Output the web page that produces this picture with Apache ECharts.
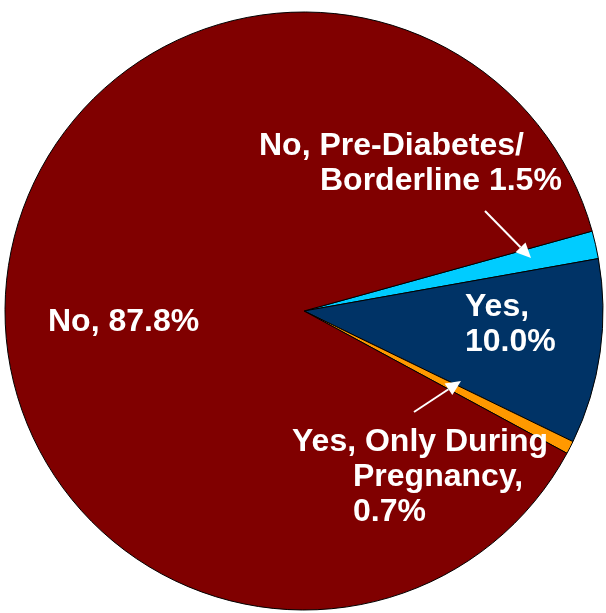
<!DOCTYPE html>
<html>
<head>
<meta charset="utf-8">
<script src="https://cdn.jsdelivr.net/npm/echarts@6/dist/echarts.min.js"></script>
<style>
  html, body { margin: 0; padding: 0; background: #fff; }
  #chart { width: 606px; height: 613px; }
</style>
</head>
<body>
<div id="chart"></div>
<script>
// Daten (Reihenfolge im Uhrzeigersinn ab Startwinkel)
const categories = ['No, Pre-Diabetes/Borderline', 'Yes', 'Yes, Only During Pregnancy', 'No'];
const values = [1.5, 10.0, 0.7, 87.8];
const colors = ['#00CCFF', '#003366', '#FF9900', '#800000'];

// Beschriftungen je Kategorie
const labelTexts = {
    'No, Pre-Diabetes/Borderline': '{a|No, Pre-Diabetes/}\n{b|Borderline 1.5%}',
    'Yes': '{a|Yes,}\n{a|10.0%}',
    'Yes, Only During Pregnancy': '{a|Yes, Only During}\n{c|Pregnancy,}\n{c|0.7%}',
    'No': '{a|No, 87.8%}'
};

// Position der Beschriftungen (Layout)
const labelPos = {
    'No, Pre-Diabetes/Borderline': [259, 129],
    'Yes': [465, 290],
    'Yes, Only During Pregnancy': [292, 425],
    'No': [48, 305]
};

// Pfeile: [von, nach]
const arrows = [
    [[485, 211], [531, 258]],
    [[414, 412], [461, 381]]
];

const myChart = echarts.init(document.getElementById('chart'), null, { renderer: 'canvas' });

function arrowGraphic(from, to) {
    const dx = to[0] - from[0], dy = to[1] - from[1];
    const len = Math.sqrt(dx * dx + dy * dy);
    const ux = dx / len, uy = dy / len;
    const headLen = 15, headW = 7;
    const bx = to[0] - ux * headLen, by = to[1] - uy * headLen;
    return {
        type: 'group',
        z: 100,
        children: [
            {
                type: 'line',
                z: 100,
                shape: { x1: from[0], y1: from[1], x2: bx, y2: by },
                style: { stroke: '#fff', lineWidth: 2 }
            },
            {
                type: 'polygon',
                z: 100,
                shape: {
                    points: [
                        to,
                        [bx - uy * headW, by + ux * headW],
                        [bx + uy * headW, by - ux * headW]
                    ]
                },
                style: { fill: '#fff' }
            }
        ]
    };
}

const richStyle = {
    a: { color: '#fff', fontSize: 32, fontWeight: 'bold', fontFamily: 'Liberation Sans', lineHeight: 35 },
    b: { color: '#fff', fontSize: 32, fontWeight: 'bold', fontFamily: 'Liberation Sans', lineHeight: 35, padding: [0, 0, 0, 61] },
    c: { color: '#fff', fontSize: 32, fontWeight: 'bold', fontFamily: 'Liberation Sans', lineHeight: 35, padding: [0, 0, 0, 61] }
};

myChart.setOption({
    animation: false,
    backgroundColor: '#fff',
    graphic: arrows.map(function (a) { return arrowGraphic(a[0], a[1]); }),
    series: [
        {
            type: 'pie',
            center: [304, 311],
            radius: 299,
            startAngle: 15.5,
            clockwise: true,
            silent: true,
            itemStyle: { borderColor: '#000', borderWidth: 1 },
            label: {
                show: true,
                position: 'inside',
                formatter: function (p) { return labelTexts[p.name]; },
                rich: richStyle
            },
            labelLine: { show: false },
            labelLayout: function (params) {
                const name = categories[params.dataIndex];
                return {
                    x: labelPos[name][0],
                    y: labelPos[name][1],
                    align: 'left',
                    verticalAlign: 'top'
                };
            },
            data: categories.map(function (c, i) {
                return { name: c, value: values[i], itemStyle: { color: colors[i] } };
            })
        }
    ]
});
</script>
</body>
</html>
